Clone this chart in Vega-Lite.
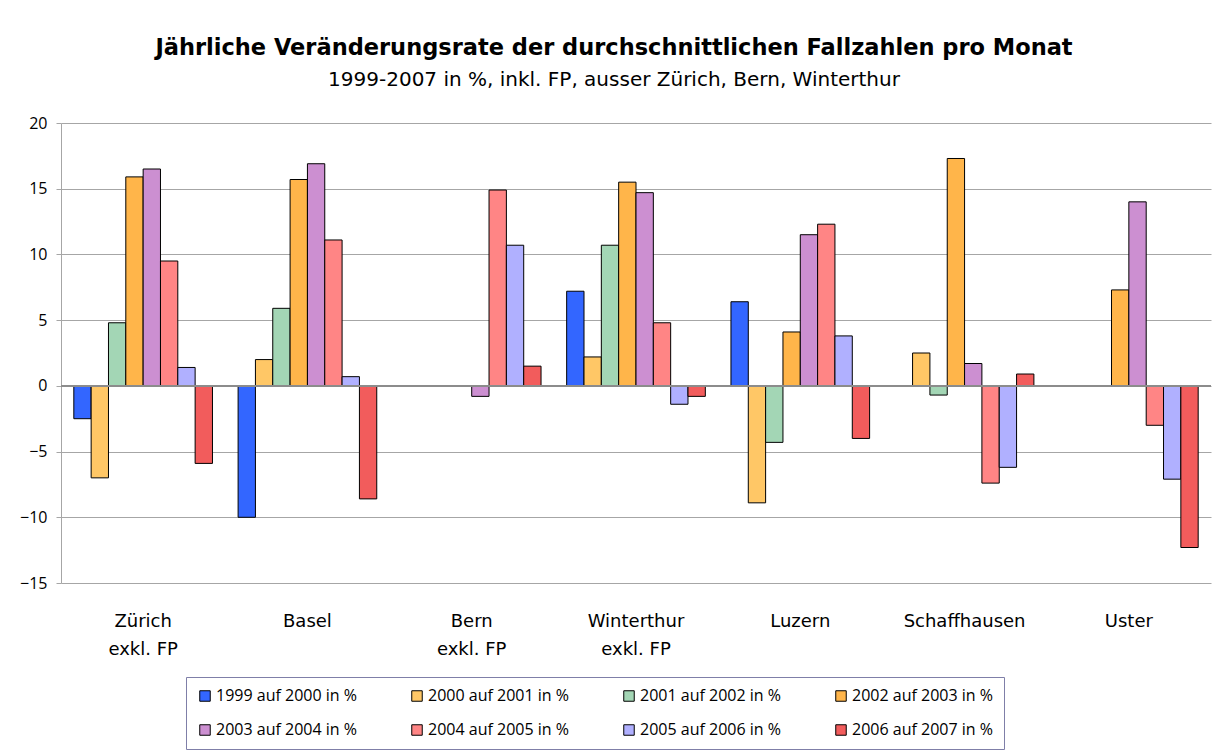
{
  "$schema": "https://vega.github.io/schema/vega-lite/v6.json",
  "autosize": "none",
  "width": 1150,
  "height": 460,
  "padding": {"left": 61, "top": 123, "right": 11, "bottom": 172},
  "background": "white",
  "config": {
    "view": {"stroke": null},
    "font": "Open Sans"
  },
  "title": {
    "text": "Jährliche Veränderungsrate der durchschnittlichen Fallzahlen pro Monat",
    "subtitle": "1999-2007 in %, inkl. FP, ausser Zürich, Bern, Winterthur",
    "anchor": "middle",
    "dx": -22,
    "offset": 25,
    "fontSize": 22.5,
    "fontWeight": "bold",
    "font": "DejaVu Sans",
    "color": "black",
    "subtitleFontSize": 20,
    "subtitleFont": "DejaVu Sans",
    "subtitleColor": "black",
    "subtitlePadding": 11
  },
  "data": {
    "values": [
      {"city": "Zürich\nexkl. FP", "period": "1999 auf 2000 in %", "value": -2.5},
      {"city": "Zürich\nexkl. FP", "period": "2000 auf 2001 in %", "value": -7.0},
      {"city": "Zürich\nexkl. FP", "period": "2001 auf 2002 in %", "value": 4.8},
      {"city": "Zürich\nexkl. FP", "period": "2002 auf 2003 in %", "value": 15.9},
      {"city": "Zürich\nexkl. FP", "period": "2003 auf 2004 in %", "value": 16.5},
      {"city": "Zürich\nexkl. FP", "period": "2004 auf 2005 in %", "value": 9.5},
      {"city": "Zürich\nexkl. FP", "period": "2005 auf 2006 in %", "value": 1.4},
      {"city": "Zürich\nexkl. FP", "period": "2006 auf 2007 in %", "value": -5.9},
      {"city": "Basel", "period": "1999 auf 2000 in %", "value": -10.0},
      {"city": "Basel", "period": "2000 auf 2001 in %", "value": 2.0},
      {"city": "Basel", "period": "2001 auf 2002 in %", "value": 5.9},
      {"city": "Basel", "period": "2002 auf 2003 in %", "value": 15.7},
      {"city": "Basel", "period": "2003 auf 2004 in %", "value": 16.9},
      {"city": "Basel", "period": "2004 auf 2005 in %", "value": 11.1},
      {"city": "Basel", "period": "2005 auf 2006 in %", "value": 0.7},
      {"city": "Basel", "period": "2006 auf 2007 in %", "value": -8.6},
      {"city": "Bern\nexkl. FP", "period": "2003 auf 2004 in %", "value": -0.8},
      {"city": "Bern\nexkl. FP", "period": "2004 auf 2005 in %", "value": 14.9},
      {"city": "Bern\nexkl. FP", "period": "2005 auf 2006 in %", "value": 10.7},
      {"city": "Bern\nexkl. FP", "period": "2006 auf 2007 in %", "value": 1.5},
      {"city": "Winterthur\nexkl. FP", "period": "1999 auf 2000 in %", "value": 7.2},
      {"city": "Winterthur\nexkl. FP", "period": "2000 auf 2001 in %", "value": 2.2},
      {"city": "Winterthur\nexkl. FP", "period": "2001 auf 2002 in %", "value": 10.7},
      {"city": "Winterthur\nexkl. FP", "period": "2002 auf 2003 in %", "value": 15.5},
      {"city": "Winterthur\nexkl. FP", "period": "2003 auf 2004 in %", "value": 14.7},
      {"city": "Winterthur\nexkl. FP", "period": "2004 auf 2005 in %", "value": 4.8},
      {"city": "Winterthur\nexkl. FP", "period": "2005 auf 2006 in %", "value": -1.4},
      {"city": "Winterthur\nexkl. FP", "period": "2006 auf 2007 in %", "value": -0.8},
      {"city": "Luzern", "period": "1999 auf 2000 in %", "value": 6.4},
      {"city": "Luzern", "period": "2000 auf 2001 in %", "value": -8.9},
      {"city": "Luzern", "period": "2001 auf 2002 in %", "value": -4.3},
      {"city": "Luzern", "period": "2002 auf 2003 in %", "value": 4.1},
      {"city": "Luzern", "period": "2003 auf 2004 in %", "value": 11.5},
      {"city": "Luzern", "period": "2004 auf 2005 in %", "value": 12.3},
      {"city": "Luzern", "period": "2005 auf 2006 in %", "value": 3.8},
      {"city": "Luzern", "period": "2006 auf 2007 in %", "value": -4.0},
      {"city": "Schaffhausen", "period": "2000 auf 2001 in %", "value": 2.5},
      {"city": "Schaffhausen", "period": "2001 auf 2002 in %", "value": -0.7},
      {"city": "Schaffhausen", "period": "2002 auf 2003 in %", "value": 17.3},
      {"city": "Schaffhausen", "period": "2003 auf 2004 in %", "value": 1.7},
      {"city": "Schaffhausen", "period": "2004 auf 2005 in %", "value": -7.4},
      {"city": "Schaffhausen", "period": "2005 auf 2006 in %", "value": -6.2},
      {"city": "Schaffhausen", "period": "2006 auf 2007 in %", "value": 0.9},
      {"city": "Uster", "period": "2002 auf 2003 in %", "value": 7.3},
      {"city": "Uster", "period": "2003 auf 2004 in %", "value": 14.0},
      {"city": "Uster", "period": "2004 auf 2005 in %", "value": -3.0},
      {"city": "Uster", "period": "2005 auf 2006 in %", "value": -7.1},
      {"city": "Uster", "period": "2006 auf 2007 in %", "value": -12.3}
    ]
  },
  "layer": [
    {
      "mark": {"type": "bar", "stroke": "black", "strokeWidth": 1},
      "encoding": {
        "x": {
          "field": "city",
          "type": "nominal",
          "sort": ["Zürich\nexkl. FP", "Basel", "Bern\nexkl. FP", "Winterthur\nexkl. FP", "Luzern", "Schaffhausen", "Uster"],
          "scale": {"paddingInner": 0.156, "paddingOuter": 0.078},
          "axis": {
            "title": null,
            "orient": "bottom",
            "domain": false,
            "ticks": false,
            "labelAngle": 0,
            "labelFontSize": 18,
            "labelFont": "DejaVu Sans",
            "labelColor": "black",
            "labelPadding": 29,
            "labelLineHeight": 28,
            "labelExpr": "split(datum.label, '\\n')"
          }
        },
        "xOffset": {
          "field": "period",
          "type": "nominal",
          "sort": ["1999 auf 2000 in %", "2000 auf 2001 in %", "2001 auf 2002 in %", "2002 auf 2003 in %", "2003 auf 2004 in %", "2004 auf 2005 in %", "2005 auf 2006 in %", "2006 auf 2007 in %"],
          "scale": {"paddingInner": 0, "paddingOuter": 0}
        },
        "y": {
          "field": "value",
          "type": "quantitative",
          "scale": {"domain": [-15, 20], "nice": false, "zero": false},
          "axis": {
            "title": null,
            "values": [-15, -10, -5, 0, 5, 10, 15, 20],
            "grid": true,
            "gridColor": "#a6a6a6",
            "gridWidth": 1,
            "domainColor": "#a6a6a6",
            "tickColor": "#a6a6a6",
            "tickSize": 5,
            "labelFontSize": 16,
            "labelColor": "black",
            "labelPadding": 9
          }
        },
        "color": {
          "field": "period",
          "type": "nominal",
          "sort": ["1999 auf 2000 in %", "2000 auf 2001 in %", "2001 auf 2002 in %", "2002 auf 2003 in %", "2003 auf 2004 in %", "2004 auf 2005 in %", "2005 auf 2006 in %", "2006 auf 2007 in %"],
          "scale": {
            "domain": ["1999 auf 2000 in %", "2000 auf 2001 in %", "2001 auf 2002 in %", "2002 auf 2003 in %", "2003 auf 2004 in %", "2004 auf 2005 in %", "2005 auf 2006 in %", "2006 auf 2007 in %"],
            "range": ["#3366ff", "#ffc766", "#a3d6b5", "#ffb54a", "#cc8fd1", "#ff8585", "#b0b0ff", "#f25c5c"]
          },
          "legend": {
            "title": null,
            "orient": "none",
            "legendX": 125,
            "legendY": 554,
            "direction": "horizontal",
            "columns": 4,
            "columnPadding": 52,
            "rowPadding": 18,
            "symbolType": "square",
            "symbolSize": 110,
            "symbolStrokeColor": "black",
            "symbolStrokeWidth": 1,
            "symbolOffset": 0,
            "labelOffset": 3,
            "labelFontSize": 16,
            "labelColor": "black",
            "labelLimit": 320,
            "labelExpr": "(datum.value == '2002 auf 2003 in %' || datum.value == '2006 auf 2007 in %') ? datum.label + '\u00a0\u00a0\u00a0\u00a0\u00a0\u00a0\u00a0\u00a0\u00a0\u00a0\u00a0\u00a0\u00a0\u00a0\u00a0\u00a0\u00a0' : datum.label",
            "strokeColor": "#7f7fa8",
            "padding": 11
          }
        }
      }
    },
    {
      "mark": {"type": "rule", "color": "#8c8c8c", "strokeWidth": 1.5},
      "encoding": {"y": {"datum": 0}}
    }
  ]
}
